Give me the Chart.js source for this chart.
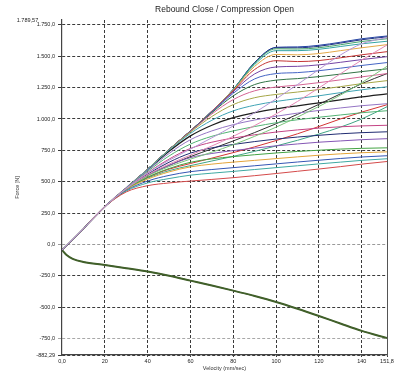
<!DOCTYPE html>
<html>
<head>
<meta charset="utf-8">
<script src="https://cdn.jsdelivr.net/npm/chart.js@4.4.1/dist/chart.umd.min.js"></script>
<style>
  html, body { margin: 0; padding: 0; background: #fff; }
  #wrap { width: 400px; height: 379px; }
</style>
</head>
<body>
<div id="wrap"><canvas id="myChart" width="400" height="379"></canvas></div>
<script>
const chartTitle = "Rebound Close / Compression Open";

// velocity (mm/sec) where the rebound curves were read
const velocity = [0, 10, 20, 30, 40, 50, 60, 70, 80, 90, 100, 110, 120, 130, 140, 151.8];

// rebound curves, lower fan
const clickL1 = [-45, 125, 300, 418, 468, 490, 505, 518, 532, 548, 565, 583, 601, 620, 640, 661];
const clickL2 = [-45, 125, 300, 425, 490, 525, 552, 568, 582, 597, 612, 627, 642, 656, 670, 683];
const clickL3 = [-45, 125, 300, 430, 505, 550, 580, 597, 612, 627, 642, 657, 671, 685, 697, 707];
const clickL4 = [-45, 125, 300, 435, 520, 578, 618, 640, 656, 670, 684, 698, 711, 722, 731, 738];
const clickL5 = [-45, 125, 300, 438, 535, 605, 655, 682, 700, 715, 729, 741, 751, 760, 766, 770];
const clickL6 = [-45, 125, 300, 441, 548, 630, 692, 725, 748, 768, 786, 801, 815, 825, 835, 843];
const clickL7 = [-45, 125, 300, 444, 560, 655, 728, 770, 797, 820, 840, 856, 870, 882, 891, 898];
const clickL8 = [-45, 125, 300, 446, 572, 680, 765, 815, 848, 874, 896, 913, 927, 938, 945, 950];

// rebound curves, middle fan
const clickM1 = [-45, 125, 300, 448, 582, 705, 800, 862, 905, 940, 970, 994, 1014, 1032, 1050, 1066];
const clickM2 = [-45, 125, 300, 449, 590, 725, 835, 905, 955, 992, 1022, 1047, 1068, 1088, 1106, 1122];
const clickM3 = [-45, 125, 300, 450, 595, 742, 865, 950, 1010, 1050, 1080, 1105, 1128, 1152, 1176, 1200];
const clickM4 = [-45, 125, 300, 450, 598, 752, 885, 990, 1065, 1110, 1140, 1163, 1185, 1210, 1233, 1257];
const clickM5 = [-45, 125, 300, 450, 600, 755, 895, 1020, 1115, 1170, 1196, 1215, 1235, 1258, 1282, 1306];
const clickM6 = [-45, 125, 300, 450, 600, 756, 900, 1040, 1155, 1225, 1255, 1270, 1290, 1312, 1336, 1362];
const clickM7 = [-45, 125, 300, 450, 600, 757, 902, 1050, 1185, 1275, 1310, 1322, 1338, 1358, 1378, 1400];
const clickM8 = [-45, 125, 300, 450, 600, 757, 903, 1055, 1205, 1320, 1362, 1370, 1385, 1405, 1427, 1450];
const clickM9 = [-45, 125, 300, 450, 600, 757, 904, 1058, 1218, 1360, 1415, 1420, 1432, 1452, 1474, 1497];
const clickM10 = [-45, 125, 300, 450, 600, 757, 905, 1060, 1225, 1395, 1465, 1458, 1466, 1488, 1512, 1537];
const clickM11 = [-45, 125, 300, 450, 600, 757, 905, 1062, 1230, 1420, 1515, 1512, 1522, 1545, 1568, 1593];

// rebound curves, top
const clickT1 = [-45, 125, 300, 450, 600, 757, 905, 1062, 1232, 1435, 1545, 1545, 1556, 1578, 1600, 1620];
const clickT2 = [-45, 125, 300, 450, 600, 757, 905, 1063, 1235, 1445, 1560, 1558, 1568, 1592, 1618, 1640];
const clickT3 = [-45, 125, 300, 450, 600, 757, 905, 1063, 1236, 1450, 1568, 1568, 1580, 1605, 1632, 1655];
const clickT4 = [-45, 125, 300, 450, 600, 757, 905, 1063, 1237, 1452, 1572, 1575, 1588, 1612, 1640, 1662];

// curves crossing the fan
const clickD1 = [-45, 125, 300, 446, 570, 670, 760, 850, 945, 1050, 1160, 1275, 1395, 1510, 1600, 1650];
const clickD2 = [-45, 125, 300, 444, 555, 640, 712, 785, 862, 948, 1040, 1140, 1248, 1360, 1470, 1590];
const clickD3 = [-45, 125, 300, 442, 545, 620, 680, 735, 795, 862, 935, 1015, 1100, 1190, 1290, 1420];
const clickD4 = [-45, 125, 300, 440, 535, 600, 645, 688, 732, 778, 828, 882, 940, 1000, 1055, 1114];
const clickD5 = [-45, 125, 300, 443, 550, 630, 700, 762, 825, 892, 962, 1037, 1117, 1200, 1282, 1362];
const clickD6 = [-45, 125, 300, 439, 528, 588, 628, 665, 702, 742, 785, 830, 880, 935, 1000, 1098];

// compression side (all clicks overlap)
const compVelocity = [0, 2, 5, 10, 20, 30, 40, 50, 60, 70, 80, 90, 100, 110, 120, 130, 140, 151.8];
const compressionForce = [-45, -82, -115, -140, -164, -190, -217, -250, -289, -328, -369, -412, -459, -513, -571, -631, -690, -747];

// axis ticks
const xTickValues = [0, 20, 40, 60, 80, 100, 120, 140, 151.8];
const xTickLabels = ["0,0", "20", "40", "60", "80", "100", "120", "140", "151,8"];
const yTickValues = [-882.29, -750, -500, -250, 0, 250, 500, 750, 1000, 1250, 1500, 1750, 1789.57];
const yTickLabels = ["-882,29", "-750,0", "-500,0", "-250,0", "0,0", "250,0", "500,0", "750,0", "1.000,0", "1.250,0", "1.500,0", "1.750,0", "1.789,57"];

const curves = [
  [clickD1, "#b596d6"], [clickD2, "#e487b6"], [clickD3, "#7cc47c"],
  [clickL1, "#d44a4a"], [clickL2, "#3fa9a2"], [clickL3, "#3456b4"], [clickL4, "#e3a43a"],
  [clickL5, "#43a343"], [clickL6, "#8456b4"], [clickL7, "#212c72"], [clickL8, "#c44485"],
  [clickM1, "#52b274"], [clickM2, "#9474c4"], [clickM4, "#3fa3b4"],
  [clickM5, "#a6a648"], [clickM6, "#d46494"], [clickM7, "#327446"], [clickM8, "#4464c4"],
  [clickM9, "#7444a4"], [clickM10, "#c43434"], [clickM11, "#e3a848"],
  [clickT1, "#34a4a4"], [clickT2, "#44a46a"], [clickT3, "#223484"], [clickT4, "#2444a4"],
  [clickD4, "#d43434"], [clickD6, "#40a484"], [clickD5, "#303030"],
  [clickM3, "#1e1e1e"]
];

function toPoints(xs, ys) {
  return xs.map(function (x, i) { return { x: x, y: ys[i] }; });
}

var datasets = curves.map(function (c, i) {
  return {
    data: toPoints(velocity, c[0]),
    borderColor: c[1],
    borderWidth: i === curves.length - 1 ? 1.3 : 1,
    pointRadius: 0,
    showLine: true,
    cubicInterpolationMode: "monotone",
  };
});
datasets.push({
  data: toPoints(compVelocity, compressionForce),
  borderColor: "#41602a",
  borderWidth: 2,
  pointRadius: 0,
  showLine: true,
  cubicInterpolationMode: "monotone",
});
datasets.push({
  data: toPoints(compVelocity, compressionForce),
  borderColor: "#161616",
  borderWidth: 0.8,
  pointRadius: 0,
  showLine: true,
  cubicInterpolationMode: "monotone",
});

// title centred over the plot area, not the canvas
const plotTitle = {
  id: "plotTitle",
  afterDraw: function (chart) {
    var c = chart.ctx;
    var area = chart.chartArea;
    c.save();
    c.fillStyle = "#222";
    c.font = "8.5px 'Liberation Sans', Arial, sans-serif";
    c.textAlign = "center";
    c.textBaseline = "middle";
    c.fillText(chartTitle, (area.left + area.right) / 2, 10);
    c.restore();
  },
};

Chart.defaults.font.family = "'Liberation Sans', Arial, sans-serif";

var ctx = document.getElementById("myChart").getContext("2d");
var myChart = new Chart(ctx, {
  type: "scatter",
  data: { datasets: datasets },
  plugins: [plotTitle],
  options: {
    responsive: false,
    animation: false,
    layout: { padding: { left: 0, right: 13, top: 20, bottom: 0 } },
    plugins: {
      legend: { display: false },
      tooltip: { enabled: false },
      title: { display: false },
    },
    scales: {
      x: {
        type: "linear",
        min: 0,
        max: 151.8,
        afterBuildTicks: function (scale) {
          scale.ticks = xTickValues.map(function (v) { return { value: v }; });
        },
        afterFit: function (scale) { scale.height = 24; },
        ticks: {
          autoSkip: false,
          maxRotation: 0,
          padding: 1,
          color: "#222",
          font: { size: 5.5 },
          callback: function (value, index) { return xTickLabels[index]; },
        },
        grid: {
          color: function (c) { return c.tick && c.tick.value === 0 ? "rgba(0,0,0,0)" : "#3a3a3a"; },
          tickLength: 2,
          lineWidth: 1,
        },
        border: { display: true, color: "#444", width: 1.2, dash: [3, 2] },
        title: {
          display: true,
          text: "Velocity (mm/sec)",
          color: "#333",
          font: { size: 5.5 },
          padding: { top: 0, bottom: 7.4 },
        },
      },
      y: {
        type: "linear",
        min: -882.29,
        max: 1789.57,
        afterBuildTicks: function (scale) {
          scale.ticks = yTickValues.map(function (v) { return { value: v }; });
        },
        afterFit: function (scale) { scale.width = 62; },
        ticks: {
          autoSkip: false,
          padding: 3,
          color: "#222",
          font: { size: 5.5 },
          callback: function (value, index) {
            // the max label sits left of the 1.750 label
            if (index === yTickValues.length - 1) return yTickLabels[index] + "           ";
            return yTickLabels[index];
          },
        },
        grid: {
          color: function (c) {
            if (!c.tick) return "#3a3a3a";
            if (c.tick.value === 0) return "#9a9a9a";
            if (c.tick.value === -750) return "#a8a8a8";
            if (c.tick.value === 1789.57) return "rgba(0,0,0,0)";
            return "#3a3a3a";
          },
          tickLength: 4,
          lineWidth: 1,
        },
        border: { display: true, color: "#444", width: 1.2, dash: [3, 2] },
        title: {
          display: true,
          text: "Force [N]",
          color: "#333",
          font: { size: 5.5 },
          padding: { top: 14.4, bottom: 0 },
        },
      },
      y2: {
        type: "linear",
        position: "right",
        min: -882.29,
        max: 1789.57,
        afterFit: function (scale) { scale.width = 0; },
        ticks: { display: false },
        grid: { display: false },
        border: { display: true, color: "#555", width: 1 },
      },
    },
  },
});
</script>
</body>
</html>
